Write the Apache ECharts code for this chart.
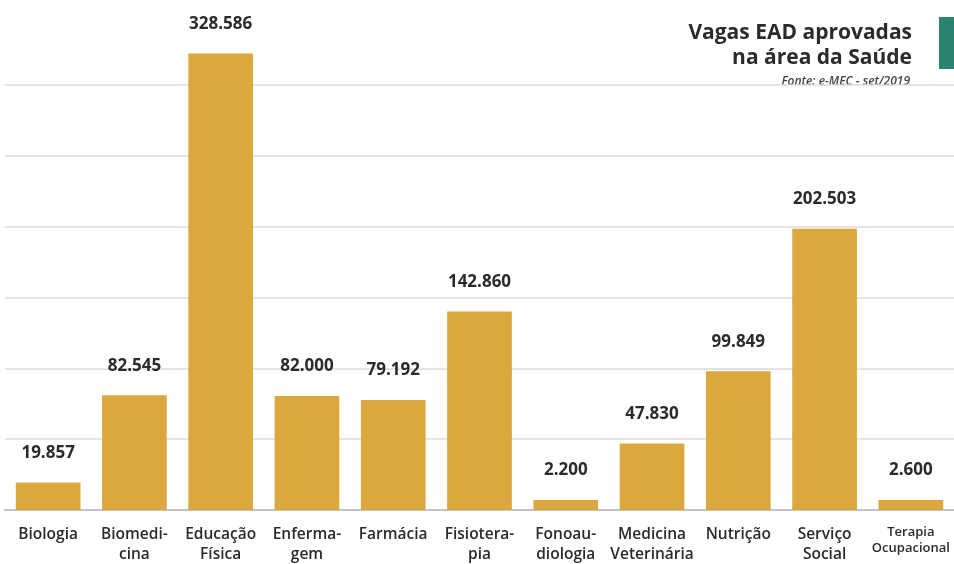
<!DOCTYPE html>
<html>
<head>
<meta charset="utf-8">
<script src="https://cdn.jsdelivr.net/npm/echarts@6/dist/echarts.min.js"></script>
<style>
  html, body { margin: 0; padding: 0; background: #fff; }
  #chart { width: 954px; height: 564px; }
</style>
</head>
<body>
<div id="chart"></div>
<script>
// course names (line breaks as in the original)
const categories = [
  "Biologia", "Biomedi-\ncina", "Educação\nFísica", "Enferma-\ngem", "Farmácia",
  "Fisiotera-\npia", "Fonoau-\ndiologia", "Medicina\nVeterinária", "Nutrição",
  "Serviço\nSocial", "Terapia\nOcupacional"
];
// approved distance learning places
const vagas = [19857, 82545, 328586, 82000, 79192, 142860, 2200, 47830, 99849, 202503, 2600];

const titleLines = ["Vagas EAD aprovadas", "na área da Saúde"];
const sourceText = "Fonte: e-MEC - set/2019";

const barColor = "#dba73f";
const textColor = "#2b2b2b";
const FONT = "'Open Sans', 'Noto Sans', sans-serif";

//format numbers with dot as thousands separator
function fmt(v) {
  return String(v).replace(/\B(?=(\d{3})+(?!\d))/g, ".");
}

const chart = echarts.init(document.getElementById("chart"), null, { renderer: "canvas" });

const option = {
  animation: false,
  textStyle: { fontFamily: FONT },
  grid: { left: 5, right: -5, top: 14, bottom: 51, containLabel: false },
  xAxis: {
    type: "category",
    data: categories,
    axisTick: { show: false },
    axisLine: { lineStyle: { color: "#c4c4c4", width: 2 } },
    axisLabel: {
      interval: 0,
      margin: 15,
      color: textColor,
      fontSize: 15.5,
      fontWeight: 600,
      lineHeight: 19.5,
      formatter: (val) => val.startsWith("Terapia") ? "{s|" + val.replace("\n", "}\n{s|") + "}" : val,
      rich: {
        s: { fontSize: 13, lineHeight: 15.5, fontWeight: 600, color: textColor }
      }
    }
  },
  yAxis: {
    type: "value",
    min: 0,
    max: 357000,
    interval: 51000,
    axisLabel: { show: false },
    axisLine: { show: false },
    axisTick: { show: false },
    splitLine: {
      lineStyle: {
        color: ["rgba(0,0,0,0)", "#dcdcdc", "#dcdcdc", "#dcdcdc", "#dcdcdc", "#dcdcdc", "#dcdcdc", "rgba(0,0,0,0)"],
        width: 1.5
      }
    }
  },
  series: [{
    type: "bar",
    data: vagas,
    barCategoryGap: "25%",
    barMinHeight: 10,
    itemStyle: { color: barColor },
    label: {
      show: true,
      position: "top",
      distance: 21,
      color: textColor,
      fontSize: 17,
      fontWeight: "bold",
      formatter: (p) => fmt(p.value)
    }
  }],
  graphic: [
    {
      type: "text",
      right: 42,
      top: 23,
      style: { text: titleLines[0], font: "bold 21px " + FONT, fill: textColor }
    },
    {
      type: "text",
      right: 42,
      top: 48,
      style: { text: titleLines[1], font: "bold 21px " + FONT, fill: textColor }
    },
    {
      type: "text",
      right: 44,
      top: 76,
      style: { text: sourceText, font: "italic 600 12px " + FONT, fill: "#444" }
    },
    {
      type: "rect",
      right: 0,
      top: 17,
      shape: { width: 15, height: 52 },
      style: { fill: "#2a8270" }
    }
  ]
};

chart.setOption(option);
</script>
</body>
</html>
